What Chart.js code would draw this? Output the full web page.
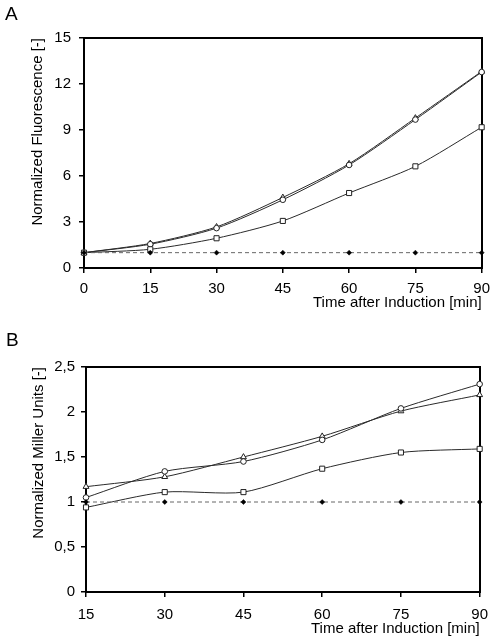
<!DOCTYPE html>
<html>
<head>
<meta charset="utf-8">
<script src="https://cdn.jsdelivr.net/npm/chart.js@4.4.1/dist/chart.umd.min.js"></script>
<style>
  html, body { margin: 0; padding: 0; background: #fff; }
  #wrapA { position: absolute; left: 0; top: 0; width: 497px; height: 322px; }
  #wrapB { position: absolute; left: 0; top: 322px; width: 497px; height: 321px; }
</style>
</head>
<body>
<div id="wrapA"><canvas id="chartA"></canvas></div>
<div id="wrapB"><canvas id="chartB"></canvas></div>
<script>
// ---- Data: panel A (fluorescence) ----
const timeA = [0, 15, 30, 45, 60, 75, 90];
const fluorCircle   = [1, 1.55, 2.60, 4.45, 6.72, 9.68, 12.78];
const fluorTriangle = [1, 1.60, 2.68, 4.60, 6.80, 9.78, 12.82];
const fluorSquare   = [1, 1.22, 1.94, 3.07, 4.89, 6.63, 9.18];
const fluorControl  = [1, 1, 1, 1, 1, 1, 1];
const yTicksA = ['0', '3', '6', '9', '12', '15'];

// ---- Data: panel B (Miller units) ----
const timeB = [15, 30, 45, 60, 75, 90];
const millerCircle   = [1.05, 1.34, 1.45, 1.69, 2.04, 2.31];
const millerTriangle = [1.17, 1.28, 1.50, 1.73, 2.01, 2.19];
const millerSquare   = [0.94, 1.11, 1.11, 1.37, 1.55, 1.59];
const millerControl  = [1, 1, 1, 1, 1, 1];
const yTicksB = ['0', '0,5', '1', '1,5', '2', '2,5'];

const FONT = 'Liberation Sans, Arial, sans-serif';

function pts(xs, ys) { return xs.map((x, i) => ({ x: x, y: ys[i] })); }

function series(xs, ys, style, radius) {
  return {
    data: pts(xs, ys),
    borderColor: '#2a2a2a',
    borderWidth: 1,
    tension: 0.25,
    pointStyle: style,
    pointRadius: radius,
    pointBackgroundColor: '#ffffff',
    pointBorderColor: '#222222',
    pointBorderWidth: 1,
    clip: false
  };
}
function control(xs, ys) {
  return {
    data: pts(xs, ys),
    borderColor: '#666666',
    borderWidth: 1,
    borderDash: [4, 3],
    tension: 0,
    pointStyle: 'rectRot',
    pointRadius: 2.5,
    pointBackgroundColor: '#000000',
    pointBorderColor: '#000000',
    pointBorderWidth: 0.5,
    clip: false
  };
}

function boxAxis(pos) {
  return {
    type: 'linear',
    position: pos,
    display: true,
    grid: { display: true, drawOnChartArea: false, drawTicks: false, color: 'rgba(0,0,0,0)' },
    ticks: { display: false },
    border: { display: true, width: 2, color: '#000' },
    afterFit: s => { if (pos === 'top') s.height = 0; else s.width = 0; }
  };
}

function makeChart(id, cfg) {
  return new Chart(document.getElementById(id), {
    type: 'line',
    data: { datasets: cfg.datasets },
    options: {
      responsive: true,
      maintainAspectRatio: false,
      animation: false,
      events: [],
      layout: { padding: cfg.padding },
      plugins: {
        legend: { display: false },
        tooltip: { enabled: false },
        title: {
          display: true,
          text: cfg.title,
          align: 'start',
          color: '#000',
          font: { family: FONT, size: 19, weight: 'normal' },
          padding: cfg.titlePad
        }
      },
      scales: {
        x: {
          type: 'linear',
          position: 'bottom',
          min: cfg.xMin, max: 90,
          ticks: { stepSize: 15, color: '#000', padding: cfg.xTickPad,
                   font: { family: FONT, size: 15 }, maxRotation: 0 },
          grid: { display: true, drawOnChartArea: false, tickLength: 5, color: '#000', lineWidth: 1.5 },
          border: { display: true, width: 2, color: '#000' },
          title: { display: true, text: 'Time after Induction [min]', align: 'end', color: '#000',
                   font: { family: FONT, size: 15 }, padding: { top: 0, bottom: cfg.xTitlePad } },
          afterFit: s => { s.height = cfg.xHeight; }
        },
        y: {
          type: 'linear',
          position: 'left',
          min: 0, max: cfg.yMax,
          ticks: { stepSize: cfg.yStep, color: '#000', padding: cfg.yTickPad,
                   font: { family: FONT, size: 15 },
                   callback: (v) => {
                     const i = Math.round(v / cfg.yStep);
                     return cfg.yLabels[i] !== undefined ? cfg.yLabels[i] : '';
                   } },
          grid: { display: true, drawOnChartArea: false, tickLength: 5, color: '#000', lineWidth: 1.5 },
          border: { display: true, width: 2, color: '#000' },
          title: { display: true, text: cfg.yTitle, align: 'end', color: '#000',
                   font: { family: FONT, size: 15 }, padding: { top: cfg.yTitlePad, bottom: 0 } },
          afterFit: s => { s.width = cfg.yWidth; }
        },
        xTop: boxAxis('top'),
        yRight: boxAxis('right')
      }
    }
  });
}

makeChart('chartA', {
  title: 'A',
  datasets: [
    control(timeA, fluorControl),
    series(timeA, fluorSquare, 'rect', 3.6),
    series(timeA, fluorCircle, 'circle', 2.8),
    series(timeA, fluorTriangle, 'triangle', 3.4)
  ],
  padding: { left: 5, right: 13, top: 0, bottom: 4 },
  titlePad: { top: 3, bottom: 12.2 },
  xMin: 0, yMax: 15, yStep: 3, yLabels: yTicksA,
  yTitle: 'Normalized Fluorescence [-]',
  xHeight: 50, xTickPad: 7, xTitlePad: 6,
  yWidth: 79, yTickPad: 8, yTitlePad: 24
});

makeChart('chartB', {
  title: 'B',
  datasets: [
    control(timeB, millerControl),
    series(timeB, millerSquare, 'rect', 3.6),
    series(timeB, millerCircle, 'circle', 2.8),
    series(timeB, millerTriangle, 'triangle', 3.4)
  ],
  padding: { left: 6, right: 12, top: 0, bottom: 3 },
  titlePad: { top: 7, bottom: 15.2 },
  xMin: 15, yMax: 2.5, yStep: 0.5, yLabels: yTicksB,
  yTitle: 'Normalized Miller Units [-]',
  xHeight: 48, xTickPad: 9, xTitlePad: 2,
  yWidth: 80, yTickPad: 6, yTitlePad: 24
});
</script>
</body>
</html>
